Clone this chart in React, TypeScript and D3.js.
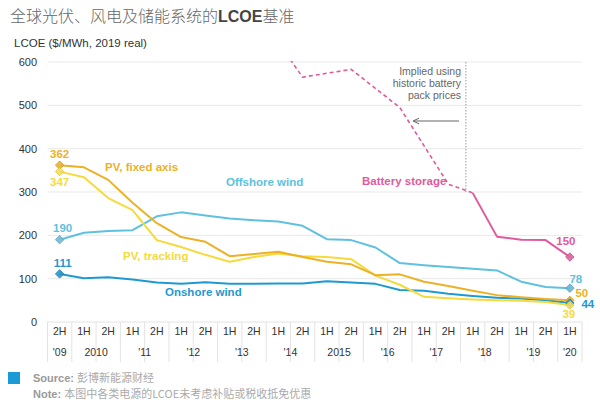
import React from "react";
import * as d3 from "d3";

const halfLabels = ["2H","1H","2H","1H","2H","1H","2H","1H","2H","1H","2H","1H","2H","1H","2H","1H","2H","1H","2H","1H","2H","1H"];
const yearLabels = ["'09","2010","'11","'12","'13","'14","2015","'16","'17","'18","'19","'20"];
const yearSpans = [1,2,2,2,2,2,2,2,2,2,2,1];
const yTicks = [0,100,200,300,400,500,600];

const pvFixed = [362,357,328,275,228,196,185,152,157,162,150,139,133,108,110,93,83,72,62,57,53,50];
const pvTracking = [347,334,286,258,189,173,155,139,150,158,152,150,145,107,86,58,55,52,50,49,46,39];
const offshore = [190,206,210,212,244,253,246,239,235,232,222,191,189,172,136,131,127,123,119,93,81,78];
const onshore = [111,101,103,98,91,88,92,88,88,89,89,94,91,88,74,72,65,60,56,54,50,44];
const batteryImplied: (number|null)[] = [null,null,null,null,null,null,null,null,725,null,565,null,583,null,495,null,318,298,null,null,null,null];
const batteryActual: (number|null)[] = [null,null,null,null,null,null,null,null,null,null,null,null,null,null,null,null,null,298,197,190,189,150];

const C = {
  fixed: "#EDB126",
  tracking: "#F5DA3C",
  offshore: "#5EC1DF",
  onshore: "#1E9AD0",
  battery: "#E15A9D",
};

const FONT = "'Liberation Sans', Arial, sans-serif";
const CJK = "'Noto Sans CJK SC', sans-serif";

export default function App() {
  const W = 600, H = 405;
  const left = 47.5, right = 582;
  const x = d3.scaleBand<number>().domain(d3.range(22)).range([left, right]);
  const cx = (i: number) => (x(i) as number) + x.bandwidth() / 2;
  const y = d3.scaleLinear().domain([0, 600]).range([322, 62]);

  const mkLine = (vals: (number|null)[]) => {
    const pts = vals.map((v, i) => [i, v] as [number, number|null]).filter(d => d[1] !== null) as [number, number][];
    return d3.line<[number, number]>().x(d => cx(d[0])).y(d => y(d[1]))(pts) || "";
  };

  const diamond = (i: number, v: number, fill: string, stroke: string) => {
    const s = 4.2;
    const px = cx(i), py = y(v);
    return <path d={`M${px},${py - s}L${px + s},${py}L${px},${py + s}L${px - s},${py}Z`} fill={fill} stroke={stroke} strokeWidth={1} opacity={0.9} />;
  };

  const bounds: number[] = [];
  let acc = 0;
  yearSpans.forEach(s => { bounds.push(acc); acc += s; });
  const vLine = cx(16) + 0.72 * x.step();

  return (
    <svg width={W} height={H} style={{ display: "block", position: "absolute", left: 0, top: 0 }}>
      <defs>
        <clipPath id="plotclip"><rect x={left} y={61} width={right - left} height={270} /></clipPath>
      </defs>
      <rect width={W} height={H} fill="#fff" />
      {/* title */}
      <text x={10} y={22} fontSize={16} fill="#666" fontFamily={CJK} fontWeight={300}>
        全球光伏、风电及储能系统的<tspan fontFamily={FONT} fontWeight="bold" fill="#444">LCOE</tspan>基准
      </text>
      <text x={14} y={47} fontSize={11.5} fill="#333" fontFamily={FONT}>LCOE ($/MWh, 2019 real)</text>

      {/* grid */}
      {yTicks.filter(t => t > 0).map(t => (
        <line key={t} x1={left} x2={right} y1={y(t)} y2={y(t)} stroke="#e9e9e9" strokeWidth={1} />
      ))}
      {yTicks.map(t => (
        <text key={t} x={37} y={y(t) + 4} fontSize={11} fill="#333" textAnchor="end" fontFamily={FONT}>{t}</text>
      ))}

      {/* x axis table */}
      <line x1={left} x2={right} y1={322} y2={322} stroke="#e3e3e3" />
      {d3.range(23).map(i => {
        const xx = i < 22 ? (x(i) as number) : right;
        return <line key={i} x1={xx} x2={xx} y1={322} y2={362} stroke="#e3e3e3" />;
      })}
      {halfLabels.map((l, i) => (
        <text key={i} x={cx(i)} y={335} fontSize={10.5} fill="#333" textAnchor="middle" fontFamily={FONT}>{l}</text>
      ))}
      {yearLabels.map((l, k) => {
        const s = bounds[k], n = yearSpans[k];
        const xm = (cx(s) + cx(s + n - 1)) / 2;
        return <text key={k} x={xm} y={356} fontSize={10.5} fill="#333" textAnchor="middle" fontFamily={FONT}>{l}</text>;
      })}

      {/* annotation */}
      <line x1={vLine} x2={vLine} y1={62} y2={192} stroke="#999" strokeWidth={1} strokeDasharray="1.5,1.5" />
      <g fontSize={10.5} fill="#666" fontFamily={FONT} textAnchor="end">
        <text x={461} y={75}>Implied using</text>
        <text x={461} y={87}>historic battery</text>
        <text x={461} y={99}>pack prices</text>
      </g>
      <line x1={459} x2={414} y1={121} y2={121} stroke="#666" strokeWidth={1} />
      <path d="M419,118.2L413,121L419,123.8" fill="none" stroke="#666" strokeWidth={1} />

      {/* lines */}
      <g clipPath="url(#plotclip)" fill="none" strokeLinejoin="round">
        <path d={mkLine(onshore)} stroke={C.onshore} strokeWidth={2} />
        <path d={mkLine(offshore)} stroke={C.offshore} strokeWidth={2} />
        <path d={mkLine(pvTracking)} stroke={C.tracking} strokeWidth={2} />
        <path d={mkLine(pvFixed)} stroke={C.fixed} strokeWidth={2} />
        <path d={mkLine(batteryImplied)} stroke={C.battery} strokeWidth={1.6} strokeDasharray="4,3" />
        <path d={mkLine(batteryActual)} stroke={C.battery} strokeWidth={2} />
      </g>

      {/* markers */}
      {diamond(0, pvFixed[0], "#E8B23A", "#D9A020")}
      {diamond(0, pvTracking[0], "#F3DC6A", "#E4C830")}
      {diamond(0, offshore[0], "#7DB8D3", "#5EA5C8")}
      {diamond(0, onshore[0], "#2A93C8", "#1E86BA")}
      {diamond(21, batteryActual[21] as number, "#D9689E", "#C9528A")}
      {diamond(21, offshore[21], "#6FB5D3", "#4FA3C8")}
      {diamond(21, pvFixed[21], "#E8B23A", "#D9A020")}
      {diamond(21, onshore[21], "#2A93C8", "#1E86BA")}
      {diamond(21, pvTracking[21], "#F3DC6A", "#E4C830")}

      {/* value labels */}
      <g fontSize={11.5} fontWeight="bold" fontFamily={FONT}>
        <text x={cx(0)} y={158} fill={C.fixed} textAnchor="middle">362</text>
        <text x={cx(0)} y={186} fill={C.tracking} textAnchor="middle">347</text>
        <text x={cx(0) + 3} y={232} fill={C.offshore} textAnchor="middle">190</text>
        <text x={cx(0) + 3} y={267} fill={C.onshore} textAnchor="middle">111</text>
        <text x={cx(21) - 4} y={245} fill={C.battery} textAnchor="middle">150</text>
        <text x={cx(21) + 6} y={283} fill={C.offshore} textAnchor="middle">78</text>
        <text x={cx(21) + 12} y={297} fill={C.fixed} textAnchor="middle">50</text>
        <text x={cx(21) + 18} y={308} fill={C.onshore} textAnchor="middle">44</text>
        <text x={cx(21) - 1} y={318} fill={C.tracking} textAnchor="middle">39</text>
      </g>

      {/* series labels */}
      <g fontSize={11.5} fontWeight="bold" fontFamily={FONT}>
        <text x={105} y={171} fill={C.fixed}>PV, fixed axis</text>
        <text x={123} y={260} fill={C.tracking}>PV, tracking</text>
        <text x={226} y={186} fill={C.offshore}>Offshore wind</text>
        <text x={165} y={296} fill={C.onshore}>Onshore wind</text>
        <text x={362} y={185} fill={C.battery}>Battery storage</text>
      </g>

      {/* footer */}
      <rect x={8} y={372} width={12} height={12} fill="#1A9BD7" />
      <text x={33} y={382} fontSize={11} fill="#aaa" fontFamily={FONT}>
        <tspan fontWeight="bold" fill="#999">Source: </tspan><tspan fontFamily={CJK}>彭博新能源财经</tspan>
      </text>
      <text x={33} y={398} fontSize={11} fill="#aaa" fontFamily={FONT}>
        <tspan fontWeight="bold" fill="#999">Note: </tspan><tspan fontFamily={CJK}>本图中各类电源的LCOE未考虑补贴或税收抵免优惠</tspan>
      </text>
    </svg>
  );
}
